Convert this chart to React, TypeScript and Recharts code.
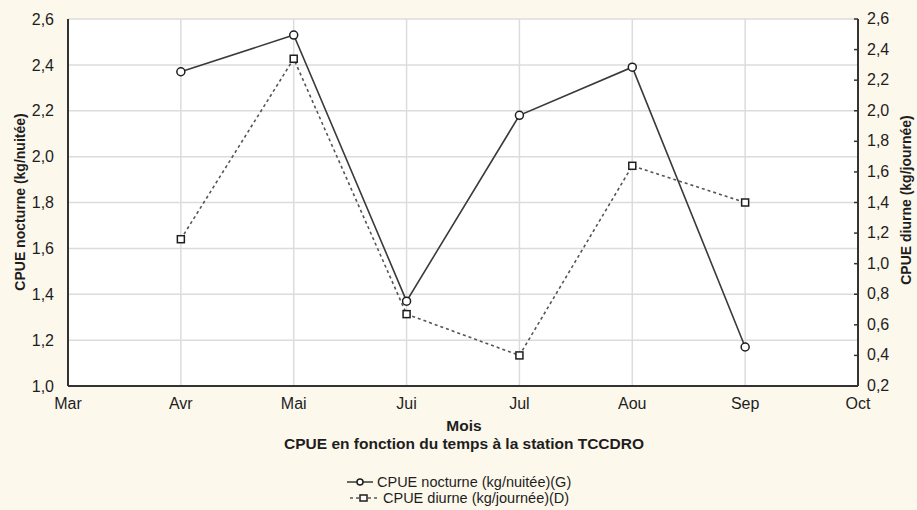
import { CartesianGrid, Line, LineChart, XAxis, YAxis } from "recharts";

// axis months (Mar..Oct), sampled months, and the two series
const months = ["Mar", "Avr", "Mai", "Jui", "Jul", "Aou", "Sep", "Oct"];
const sampleMonths = ["Avr", "Mai", "Jui", "Jul", "Aou", "Sep"];
const nocturne = [2.37, 2.53, 1.37, 2.18, 2.39, 1.17];
const diurne = [1.16, 2.34, 0.67, 0.4, 1.64, 1.4];
const leftTicks = [1.0, 1.2, 1.4, 1.6, 1.8, 2.0, 2.2, 2.4, 2.6];
const rightTicks = [0.2, 0.4, 0.6, 0.8, 1.0, 1.2, 1.4, 1.6, 1.8, 2.0, 2.2, 2.4, 2.6];

const data = sampleMonths.map((m, i) => ({
    x: months.indexOf(m),
    noct: nocturne[i],
    diur: diurne[i],
}));

const BG = "#fdf8ec";
const INK = "#1e1e1e";
const FONT = "'Liberation Sans', Arial, sans-serif";

const fmt = (v: number) => v.toFixed(1).replace(".", ",");

const SquareDot = (props: any) => {
    const { cx, cy } = props;
    if (cx == null || cy == null) return null;
    return <rect x={cx - 3.5} y={cy - 3.5} width={7} height={7} fill="#fff" stroke={INK} strokeWidth={1.5} />;
};

// right axis: short inward tick + label
const RightTick = (props: any) => {
    const { x, y, payload } = props;
    return (
        <g>
            <line x1={x - 13} x2={x - 9} y1={y} y2={y} stroke="#333" strokeWidth={1.5} />
            <text x={x} y={y} dy={5} fill={INK} fontSize={16} fontFamily={FONT}>
                {fmt(payload.value)}
            </text>
        </g>
    );
};

export default function App() {
    return (
        <div style={{ position: "absolute", left: 0, top: 0, width: 917, height: 510, background: BG, fontFamily: FONT }}>
            <LineChart width={917} height={510} data={data} margin={{ top: 19, right: 0, left: 0, bottom: 94 }}>
                <CartesianGrid yAxisId="left" fill="#fff" stroke="#dcdcdc" strokeWidth={1.5} />
                <XAxis
                    dataKey="x"
                    type="number"
                    domain={[0, 7]}
                    ticks={months.map((_, i) => i)}
                    tickFormatter={(v: number) => months[v]}
                    interval={0}
                    height={30}
                    tickLine={false}
                    tickMargin={6}
                    axisLine={{ stroke: "#333", strokeWidth: 2 }}
                    tick={{ fill: INK, fontSize: 16, fontFamily: FONT }}
                />
                <XAxis xAxisId="top" orientation="top" dataKey="x" type="number" domain={[0, 7]} height={0} tick={false} tickLine={false} axisLine={{ stroke: "#333", strokeWidth: 2 }} />
                <YAxis
                    yAxisId="left"
                    domain={[1.0, 2.6]}
                    ticks={leftTicks}
                    tickFormatter={fmt}
                    width={68}
                    tickLine={false}
                    tickMargin={8}
                    axisLine={{ stroke: "#333", strokeWidth: 2 }}
                    tick={{ fill: INK, fontSize: 16, fontFamily: FONT }}
                />
                <YAxis
                    yAxisId="right"
                    orientation="right"
                    domain={[0.2, 2.6]}
                    ticks={rightTicks}
                    width={59}
                    tickSize={0}
                    tickLine={false}
                    tickMargin={9}
                    axisLine={{ stroke: "#333", strokeWidth: 2 }}
                    tick={<RightTick />}
                />
                <Line
                    yAxisId="left"
                    dataKey="noct"
                    stroke="#3a3a3a"
                    strokeWidth={1.6}
                    dot={{ r: 4, fill: "#fff", stroke: INK, strokeWidth: 1.5 }}
                    activeDot={false}
                    isAnimationActive={false}
                />
                <Line
                    yAxisId="right"
                    dataKey="diur"
                    stroke="#555"
                    strokeWidth={1.6}
                    strokeDasharray="3 3"
                    dot={<SquareDot />}
                    activeDot={false}
                    isAnimationActive={false}
                />
            </LineChart>

            {/* axis titles */}
            <div style={{ position: "absolute", left: 20, top: 202, transform: "translate(-50%, -50%) rotate(-90deg)", whiteSpace: "nowrap", fontWeight: "bold", fontSize: 14, color: INK }}>
                CPUE nocturne (kg/nuitée)
            </div>
            <div style={{ position: "absolute", left: 906, top: 200, transform: "translate(-50%, -50%) rotate(-90deg)", whiteSpace: "nowrap", fontWeight: "bold", fontSize: 14, color: INK }}>
                CPUE diurne (kg/journée)
            </div>
            <div style={{ position: "absolute", left: 0, width: 928, top: 417, textAlign: "center", fontWeight: "bold", fontSize: 15.5, color: INK }}>
                Mois
            </div>
            <div style={{ position: "absolute", left: 0, width: 928, top: 435, textAlign: "center", fontWeight: "bold", fontSize: 15.5, color: INK }}>
                CPUE en fonction du temps à la station TCCDRO
            </div>

            {/* legend */}
            <div style={{ position: "absolute", left: 347, top: 474, fontSize: 14.5, color: INK, lineHeight: "16px" }}>
                <div style={{ display: "flex", alignItems: "center" }}>
                    <svg width={28} height={14}>
                        <line x1={0} x2={26} y1={7} y2={7} stroke="#3a3a3a" strokeWidth={1.5} />
                        <circle cx={13} cy={7} r={3} fill="#fff" stroke={INK} strokeWidth={1.5} />
                    </svg>
                    <span style={{ marginLeft: 2 }}>CPUE nocturne (kg/nuitée)(G)</span>
                </div>
                <div style={{ display: "flex", alignItems: "center", marginLeft: 3 }}>
                    <svg width={28} height={14}>
                        <line x1={0} x2={27} y1={7} y2={7} stroke="#555" strokeWidth={1.5} strokeDasharray="3 3" />
                        <rect x={10} y={4} width={7} height={6} fill="#fff" stroke={INK} strokeWidth={1.5} />
                    </svg>
                    <span style={{ marginLeft: 5 }}>CPUE diurne (kg/journée)(D)</span>
                </div>
            </div>
        </div>
    );
}
